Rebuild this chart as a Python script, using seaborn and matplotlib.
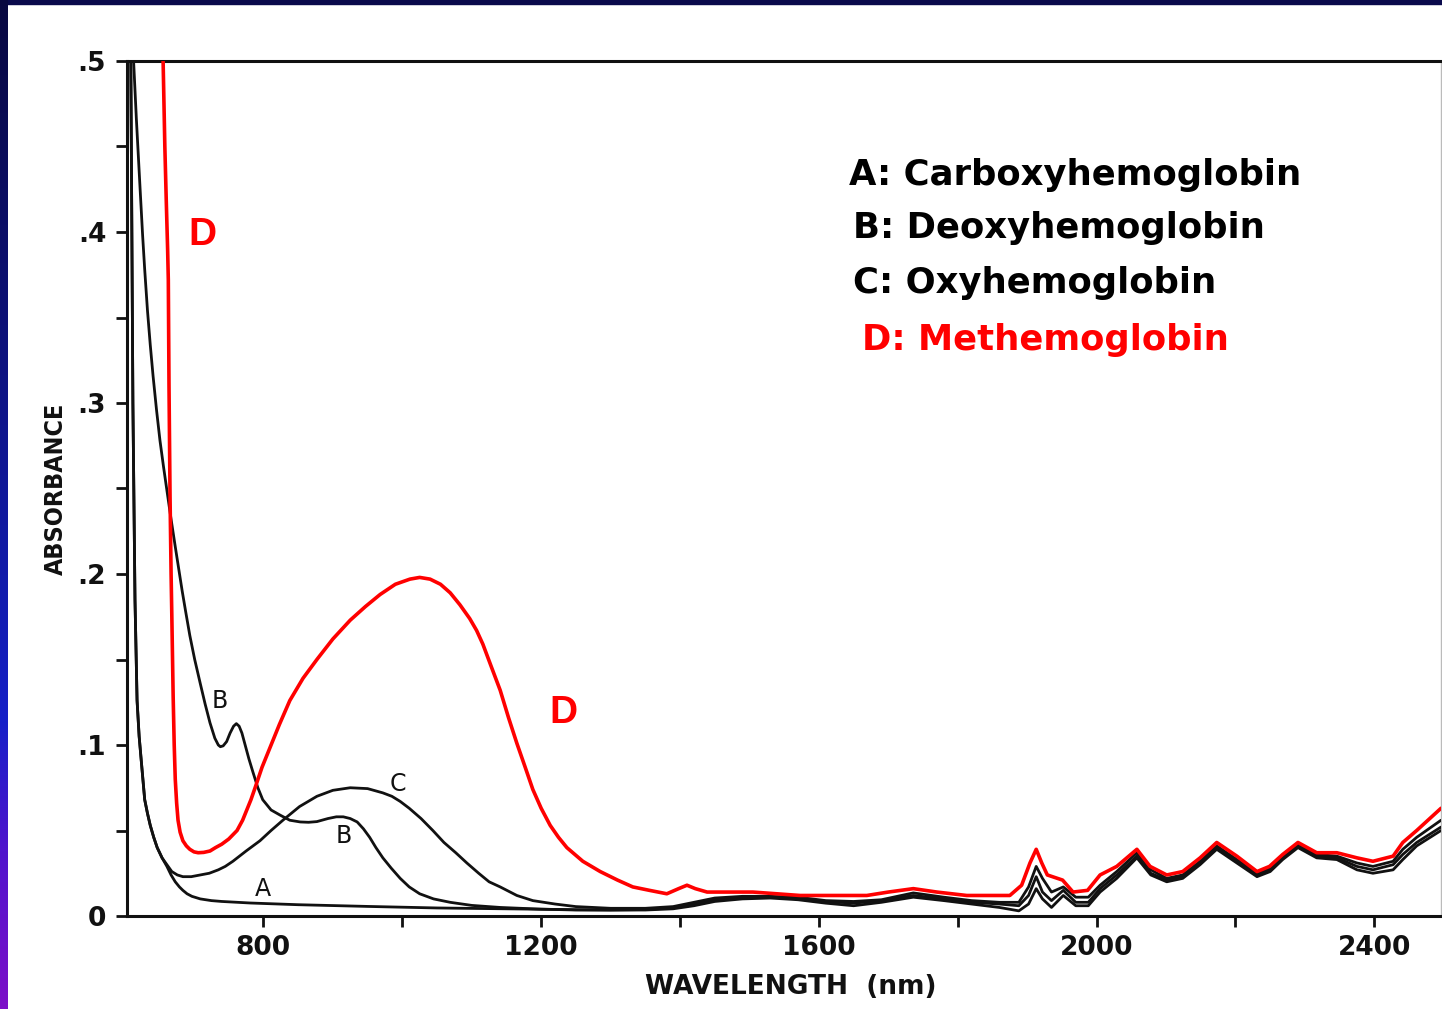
import numpy as np
import matplotlib
matplotlib.use("Agg")
import matplotlib.pyplot as plt
import seaborn as sns
from matplotlib.patches import Rectangle

# ---------------------------------------------------------------- data
# Absorbance spectra of haemoglobin species (wavelength in nm)

# A: carboxyhaemoglobin, visible / short-NIR part
wl_a_vis = [603, 609, 612, 615, 618, 621, 624, 629, 633, 637, 642, 647, 654,
            661, 667, 673, 679, 684, 690, 697, 709, 725, 740, 781, 850, 950,
            1050, 1150, 1250]
abs_a_vis = [0.60, 0.50, 0.30, 0.185, 0.126, 0.105, 0.091, 0.068, 0.060,
             0.053, 0.046, 0.040, 0.034, 0.029, 0.024, 0.020, 0.017, 0.015,
             0.013, 0.0115, 0.010, 0.009, 0.0085, 0.0076, 0.0066, 0.0056,
             0.0047, 0.0042, 0.0037]

# B: deoxyhaemoglobin
wl_b_vis = [605, 613, 617, 622, 626, 629, 633, 637, 641, 646, 651, 656, 662,
            667, 673, 678, 683, 688, 694, 701, 709, 716, 723, 730, 735, 738,
            742, 747, 752, 757, 761, 765, 769, 773, 779, 785, 792, 799, 811,
            824, 838, 853, 865, 877, 893, 905, 915, 925, 935, 944, 953, 962,
            972, 984, 997, 1010, 1025, 1045, 1069, 1100, 1141, 1200, 1250]
abs_b_vis = [0.60, 0.50, 0.466, 0.428, 0.398, 0.378, 0.354, 0.334, 0.316,
             0.296, 0.278, 0.263, 0.246, 0.232, 0.216, 0.203, 0.190, 0.178,
             0.164, 0.150, 0.136, 0.124, 0.113, 0.104, 0.100, 0.099, 0.0995,
             0.102, 0.107, 0.111, 0.1125, 0.111, 0.107, 0.101, 0.092, 0.084,
             0.075, 0.068, 0.062, 0.059, 0.056, 0.055, 0.0548, 0.0552, 0.057,
             0.058, 0.058, 0.057, 0.055, 0.051, 0.046, 0.040, 0.034, 0.028,
             0.022, 0.017, 0.013, 0.010, 0.008, 0.0062, 0.005, 0.004, 0.0035]

# C: oxyhaemoglobin
wl_c_vis = [603, 609, 612, 615, 618, 621, 624, 629, 633, 637, 642, 647, 654,
            661, 668, 676, 684, 696, 709, 722, 735, 745, 756, 775, 795, 811,
            828, 852, 877, 900, 925, 950, 972, 985, 997, 1010, 1027, 1044,
            1060, 1077, 1093, 1110, 1125, 1141, 1165, 1188, 1220, 1250]
abs_c_vis = [0.60, 0.50, 0.30, 0.185, 0.126, 0.105, 0.091, 0.068, 0.060,
             0.053, 0.046, 0.040, 0.034, 0.030, 0.026, 0.024, 0.023, 0.023,
             0.024, 0.025, 0.027, 0.029, 0.032, 0.038, 0.044, 0.050, 0.056,
             0.064, 0.070, 0.0735, 0.075, 0.0745, 0.072, 0.070, 0.067, 0.063,
             0.057, 0.050, 0.043, 0.037, 0.031, 0.025, 0.020, 0.017, 0.012,
             0.009, 0.007, 0.0055]

# shared NIR wavelength grid for the three black spectra
wl_nir = [1300, 1350, 1390, 1420, 1450, 1490, 1530, 1570, 1610, 1650, 1690,
          1736, 1780, 1820, 1860, 1888, 1902, 1913, 1922, 1935, 1952, 1970,
          1988, 2005, 2029, 2058, 2078, 2101, 2124, 2149, 2173, 2202, 2231,
          2250, 2268, 2290, 2317, 2346, 2375, 2398, 2427, 2441, 2461, 2496]
abs_c_nir = [.0045, .0045, .0055, .008, .0105, .0115, .0115, .011, .009,
             .0085, .0095, .0135, .011, .009, .008, .008, .017, .029, .022,
             .014, .017, .011, .011, .018, .026, .037, .027, .022, .024, .032,
             .041, .033, .025, .028, .035, .042, .036, .035, .031, .029, .032,
             .039, .046, .056]
abs_b_nir = [.0035, .0038, .0048, .007, .0095, .0108, .011, .0102, .0085,
             .0075, .009, .012, .010, .008, .007, .006, .012, .023, .014,
             .009, .015, .008, .008, .016, .024, .035, .025, .021, .023, .031,
             .040, .032, .024, .027, .034, .041, .035, .034, .029, .027, .030,
             .036, .043, .052]
abs_a_nir = [.0035, .0035, .0042, .006, .0085, .010, .0105, .0095, .0075,
             .006, .008, .011, .009, .007, .005, .003, .007, .016, .010, .005,
             .012, .006, .006, .014, .022, .034, .024, .020, .022, .030, .039,
             .031, .023, .026, .033, .040, .034, .033, .027, .025, .027, .033,
             .041, .050]

# D: methaemoglobin (full range)
wl_d = [654, 658, 660, 662, 663, 664, 665.5, 667, 668, 670, 671.5, 673, 675,
        677, 680, 684, 689, 694, 700, 706, 714, 723, 731, 740, 750, 762, 770,
        776, 782, 788, 798, 809, 823, 838, 857, 877, 900, 925, 947, 968, 990,
        1011, 1025, 1040, 1055, 1069, 1083, 1097, 1107, 1116, 1128, 1141,
        1153, 1165, 1177, 1188, 1200, 1213, 1225, 1237, 1260, 1285, 1310,
        1332, 1356, 1381, 1398, 1410, 1422, 1439, 1505, 1573, 1669, 1700,
        1736, 1770, 1813, 1875, 1892, 1904, 1913, 1921, 1929, 1951, 1966,
        1987, 2005, 2029, 2058, 2077, 2101, 2124, 2149, 2173, 2202, 2231,
        2249, 2268, 2290, 2317, 2346, 2375, 2398, 2427, 2441, 2461, 2496]
abs_d = [0.53, 0.45, 0.419, 0.39, 0.372, 0.31, 0.245, 0.200, 0.177, 0.128,
         0.100, 0.080, 0.066, 0.056, 0.049, 0.044, 0.041, 0.039, 0.0375,
         0.037, 0.0372, 0.038, 0.040, 0.042, 0.045, 0.050, 0.056, 0.062,
         0.068, 0.075, 0.087, 0.098, 0.112, 0.126, 0.139, 0.150, 0.162,
         0.173, 0.181, 0.188, 0.194, 0.197, 0.198, 0.197, 0.194, 0.189,
         0.182, 0.174, 0.167, 0.159, 0.146, 0.132, 0.116, 0.101, 0.087,
         0.074, 0.063, 0.053, 0.046, 0.040, 0.032, 0.026, 0.021, 0.017,
         0.015, 0.013, 0.016, 0.018, 0.016, 0.014, 0.014, 0.012, 0.012,
         0.014, 0.016, 0.014, 0.012, 0.012, 0.018, 0.031, 0.039, 0.031,
         0.024, 0.021, 0.014, 0.015, 0.024, 0.029, 0.039, 0.029, 0.024,
         0.026, 0.034, 0.043, 0.035, 0.026, 0.029, 0.036, 0.043, 0.037,
         0.037, 0.034, 0.032, 0.035, 0.043, 0.050, 0.063]

x_ticks = [800, 1200, 1600, 2000, 2400]
x_tick_labels = ["800", "1200", "1600", "2000", "2400"]
x_minor_ticks = [1000, 1400, 1800, 2200]
y_ticks = [0.0, 0.1, 0.2, 0.3, 0.4, 0.5]
y_tick_labels = ["0", ".1", ".2", ".3", ".4", ".5"]
y_minor_ticks = [0.05, 0.15, 0.25, 0.35, 0.45]

legend_labels = ["A: Carboxyhemoglobin", "B: Deoxyhemoglobin",
                 "C: Oxyhemoglobin", "D: Methemoglobin"]

# ---------------------------------------------------------------- style
sns.set_style("white")
plt.rcParams["font.family"] = ["DejaVu Sans"]
BLACK = "#111111"
RED = "#ff0000"

W, H = 1442, 1009
fig = plt.figure(figsize=(W / 100, H / 100), dpi=100, facecolor="white")

# slide frame: dark top band and blue-to-violet strip on the left
fig.add_artist(Rectangle((0, 1 - 4 / H), 1, 4 / H, transform=fig.transFigure,
                         color="#0a0a4c", zorder=0))
strip = fig.add_axes([0, 0, 8 / W, 1])
stops_y = [0, 300, 600, 720, 850, 1009]
stops_c = np.array([[8, 8, 64], [12, 16, 115], [18, 28, 175], [22, 32, 200],
                    [80, 20, 205], [125, 15, 200]]) / 255.0
rows = np.arange(H)
grad = np.stack([np.interp(rows, stops_y, stops_c[:, k]) for k in range(3)],
                axis=1)[:, None, :]
strip.imshow(grad, aspect="auto", extent=(0, 1, 0, 1), origin="upper")
strip.set_axis_off()

ax = fig.add_axes([127 / W, 93 / H, 1314 / W, 855 / H])
ax.set_facecolor("white")

wl_a = wl_a_vis + wl_nir
wl_b = wl_b_vis + wl_nir
wl_c = wl_c_vis + wl_nir
ab_a = abs_a_vis + abs_a_nir
ab_b = abs_b_vis + abs_b_nir
ab_c = abs_c_vis + abs_c_nir

for wl, ab in [(wl_a, ab_a), (wl_b, ab_b), (wl_c, ab_c)]:
    sns.lineplot(x=wl, y=ab, ax=ax, color=BLACK, linewidth=2.0,
                 estimator=None, sort=False, zorder=3,
                 solid_joinstyle="round")
sns.lineplot(x=wl_d, y=abs_d, ax=ax, color=RED, linewidth=2.6,
             estimator=None, sort=False, zorder=4, solid_joinstyle="round")

ax.set_xlim(603.5, 2496)
ax.set_ylim(0, 0.5)

ax.set_xticks(x_ticks)
ax.set_xticklabels(x_tick_labels)
ax.set_xticks(x_minor_ticks, minor=True)
ax.set_yticks(y_ticks)
ax.set_yticklabels(y_tick_labels)
ax.set_yticks(y_minor_ticks, minor=True)

ax.tick_params(which="both", direction="out", length=8, width=2.0,
               color=BLACK, bottom=True, left=True, top=False, right=False)
ax.tick_params(axis="x", which="major", labelsize=19, pad=6, labelcolor=BLACK)
ax.tick_params(axis="y", which="major", labelsize=19, pad=7, labelcolor=BLACK)
for lbl in ax.get_xticklabels() + ax.get_yticklabels():
    lbl.set_fontweight("bold")

for side in ["left", "bottom", "top"]:
    ax.spines[side].set_visible(True)
    ax.spines[side].set_color(BLACK)
    ax.spines[side].set_linewidth(2.2)
ax.spines["right"].set_visible(True)
ax.spines["right"].set_color("#bbbbbb")
ax.spines["right"].set_linewidth(1.0)
ax.grid(False)

ax.set_xlabel("WAVELENGTH  (nm)", fontsize=19, fontweight="bold",
              color=BLACK)
ax.xaxis.set_label_coords(0.505, -0.068)
ax.set_ylabel("ABSORBANCE", fontsize=18, fontweight="bold", color=BLACK,
              fontstretch="condensed")
ax.yaxis.set_label_coords(-0.045, 0.5)

# curve letters placed next to the traces
for s, x, y, c, fs, fw, fam in [
        ("D", 712, 0.398, RED, 28, "bold", "Liberation Sans"),
        ("D", 1232, 0.119, RED, 28, "bold", "Liberation Sans"),
        ("B", 737, 0.126, BLACK, 17, "normal", "DejaVu Sans"),
        ("B", 915, 0.047, BLACK, 17, "normal", "DejaVu Sans"),
        ("C", 994, 0.077, BLACK, 17, "normal", "DejaVu Sans"),
        ("A", 799, 0.016, BLACK, 17, "normal", "DejaVu Sans")]:
    ax.text(x, y, s, color=c, fontsize=fs, fontweight=fw, family=fam,
            ha="center", va="center", zorder=5)

# species key
key_x = [849, 853, 853, 862]
key_base = [185, 238, 293, 350]
key_col = ["black", "black", "black", RED]
for s, xp, yp, c in zip(legend_labels, key_x, key_base, key_col):
    fig.text(xp / W, 1 - yp / H, s, color=c, fontsize=25.5,
             fontweight="bold", ha="left", va="baseline")

fig.savefig("out.png", dpi=100, facecolor="white")
